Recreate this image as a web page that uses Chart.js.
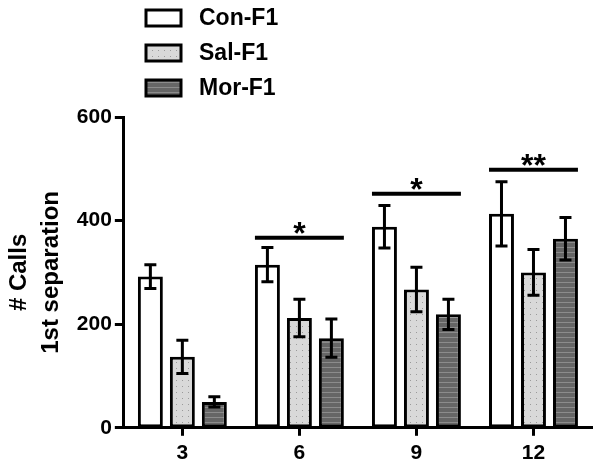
<!DOCTYPE html>
<html>
<head>
<meta charset="utf-8">
<script src="https://cdn.jsdelivr.net/npm/chart.js@4"></script>
<style>
  html, body { margin: 0; padding: 0; background: #fff; }
  #wrap { width: 600px; height: 471px; position: relative; }
</style>
</head>
<body>
<div id="wrap"><canvas id="main-chart"></canvas></div>
<script>
const labels   = ['3', '6', '9', '12'];
const seriesNames = ['Con-F1', 'Sal-F1', 'Mor-F1'];
const conVals  = [292, 315, 388, 413];
const conErr   = [23, 33, 41, 62];
const salVals  = [137, 212, 267, 300];
const salErr   = [32, 36, 43, 44];
const morVals  = [50, 173, 219, 365];
const morErr   = [10, 37, 29, 41];
// significance bars: category index, height, label
const sigGroups = [1, 2, 3];
const sigHeights = [367, 452, 498];
const sigLabels = ['*', '*', '**'];

function makePattern(kind) {
  const c = document.createElement('canvas');
  const x = c.getContext('2d');
  if (kind === 'dots') {
    c.width = 6; c.height = 6;
    x.fillStyle = '#d9d9d9'; x.fillRect(0, 0, 6, 6);
    x.fillStyle = '#9a9a9a'; x.fillRect(2, 2, 1, 1);
  } else {
    c.width = 6; c.height = 5;
    x.fillStyle = '#666'; x.fillRect(0, 0, 6, 5);
    x.fillStyle = '#8c8c8c'; x.fillRect(0, 2, 6, 1);
  }
  return x.createPattern(c, 'repeat');
}

const fills = ['#fff', makePattern('dots'), makePattern('lines')];
const errs = [conErr, salErr, morErr];

const font = 'Arial, "Liberation Sans", sans-serif';

let chart = new Chart(document.getElementById('main-chart'), {
  type: 'bar',
  data: {
    labels,
    datasets: [conVals, salVals, morVals].map((vals, i) => ({
      label: seriesNames[i],
      data: vals,
      backgroundColor: fills[i],
      borderColor: '#000',
      borderWidth: 3,
      borderSkipped: false,
      categoryPercentage: 0.82,
      barPercentage: 0.78,
    }))
  },
  options: {
    responsive: true, maintainAspectRatio: false,
    animation: false,
    layout: { padding: { top: 117, right: 8, left: 3, bottom: 0 } },
    plugins: {
      legend: { display: false },
      tooltip: { enabled: false }
    },
    scales: {
      x: {
        grid: { drawOnChartArea: false, offset: false, tickLength: 8, tickWidth: 3, tickColor: '#000' },
        border: { color: '#000', width: 3 },
        ticks: { color: '#000', font: { family: font, size: 21, weight: 'bold' }, padding: 5 }
      },
      y: {
        min: 0, max: 600,
        grid: { drawOnChartArea: false, tickLength: 9, tickWidth: 3, tickColor: '#000' },
        border: { color: '#000', width: 3 },
        title: { display: true, text: ['# Calls', '1st separation'], color: '#000', font: { family: font, size: 24, weight: 'bold', lineHeight: 1.35 }, padding: { top: 0, bottom: 6 } },
        ticks: { stepSize: 200, color: '#000', font: { family: font, size: 21, weight: 'bold' }, padding: 3 }
      }
    }
  },
  plugins: [{
    id: 'extras',
    afterDatasetsDraw(ch) {
      const c = ch.ctx;
      const ys = ch.scales.y;
      c.save();
      // error bars
      c.strokeStyle = '#000';
      c.lineWidth = 3;
      ch.data.datasets.forEach((ds, di) => {
        const meta = ch.getDatasetMeta(di);
        meta.data.forEach((bar, i) => {
          const v = ds.data[i], e = errs[di][i];
          const top = ys.getPixelForValue(v + e), bot = ys.getPixelForValue(v - e);
          c.beginPath();
          c.moveTo(bar.x, top); c.lineTo(bar.x, bot);
          c.moveTo(bar.x - 6, top); c.lineTo(bar.x + 6, top);
          c.moveTo(bar.x - 6, bot); c.lineTo(bar.x + 6, bot);
          c.stroke();
        });
      });
      // significance lines
      c.lineWidth = 4;
      c.fillStyle = '#000';
      c.font = `bold 32px ${font}`;
      c.textAlign = 'center';
      c.textBaseline = 'alphabetic';
      sigGroups.forEach((g, k) => {
        const first = ch.getDatasetMeta(0).data[g];
        const last = ch.getDatasetMeta(2).data[g];
        const x0 = first.x - first.width / 2, x1 = last.x + last.width / 2;
        const y = ys.getPixelForValue(sigHeights[k]);
        c.beginPath(); c.moveTo(x0, y); c.lineTo(x1, y); c.stroke();
        c.fillText(sigLabels[k], (x0 + x1) / 2, y + 6);
      });
      // legend
      c.font = `bold 23px ${font}`;
      c.textAlign = 'left';
      c.textBaseline = 'middle';
      ch.data.datasets.forEach((ds, i) => {
        const cy = 18 + i * 35;
        c.fillStyle = ds.backgroundColor;
        c.fillRect(146, cy - 8, 35, 16);
        c.lineWidth = 3;
        c.strokeStyle = '#000';
        c.strokeRect(146, cy - 8, 35, 16);
        c.fillStyle = '#000';
        c.fillText(ds.label, 199, cy + 1);
      });
      c.restore();
    }
  }]
});
</script>
</body>
</html>
